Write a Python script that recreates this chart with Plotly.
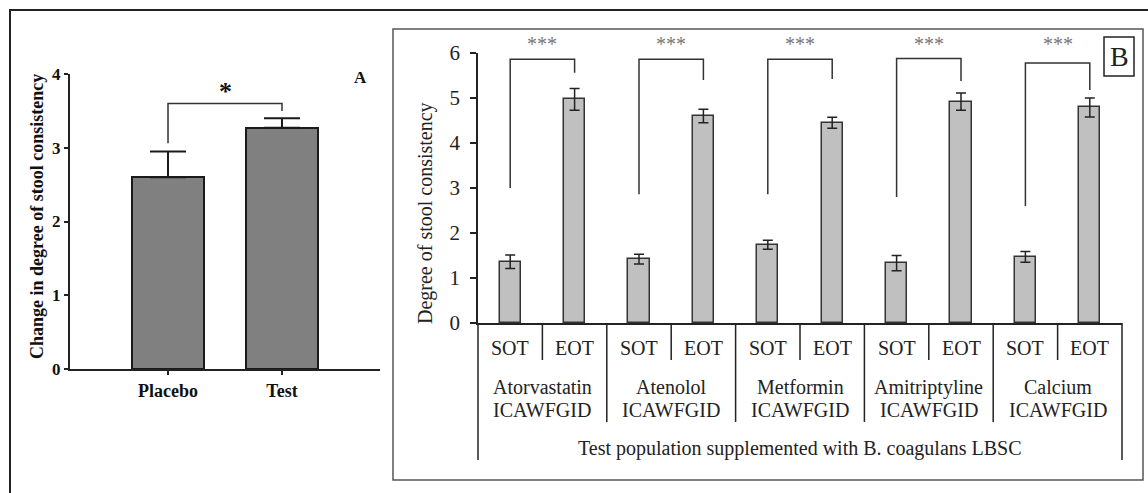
import plotly.graph_objects as go

W, H = 1148, 493

# ---------------- data ----------------
# Panel A
a_groups = ["Placebo", "Test"]
a_values = [2.60, 3.27]
a_err = [0.35, 0.13]

# Panel B
b_drugs = ["Atorvastatin", "Atenolol", "Metformin", "Amitriptyline", "Calcium"]
b_times = ["SOT", "EOT"]
b_values = [1.36, 4.97, 1.42, 4.60, 1.74, 4.45, 1.33, 4.92, 1.47, 4.79]
b_err = [0.15, 0.24, 0.11, 0.15, 0.10, 0.12, 0.17, 0.19, 0.12, 0.21]
# bracket: (SOT-side start, top, EOT-side end) heights per drug
b_br_start = [3.00, 2.86, 2.86, 2.80, 2.60]
b_br_top = [5.86, 5.86, 5.86, 5.88, 5.78]
b_br_end = [5.56, 5.40, 5.42, 5.38, 5.18]
b_sig = "***"
b_bottom = "Test population supplemented with B. coagulans LBSC"
b_sub = "ICAWFGID"


def px(x):
    return x / W


def py(y):
    return 1 - y / H


SERIF = "Liberation Serif, Times New Roman, serif"
fig = go.Figure()

# ---------------- Panel A ----------------
a_x = list(range(len(a_groups)))
fig.add_trace(go.Bar(
    x=a_x, y=a_values, width=0.64, xaxis="x", yaxis="y",
    marker=dict(color="#808080", line=dict(color="#1a1a1a", width=2)),
    error_y=dict(type="data", symmetric=False, array=a_err, arrayminus=[0] * len(a_err),
                 color="#1a1a1a", thickness=2, width=18),
    showlegend=False, hoverinfo="skip",
))

# ---------------- Panel B ----------------
b_x = list(range(len(b_values)))
fig.add_trace(go.Bar(
    x=b_x, y=b_values, width=0.33, xaxis="x2", yaxis="y2",
    marker=dict(color="#c0c0c0", line=dict(color="#333333", width=1.5)),
    error_y=dict(type="data", array=b_err, color="#222222", thickness=1.5, width=5),
    showlegend=False, hoverinfo="skip",
))

shapes = []
annotations = []

# outer frame
shapes.append(dict(type="rect", xref="paper", yref="paper", x0=px(10), x1=1.05,
                   y0=-0.05, y1=py(10), line=dict(color="#222222", width=2)))
# panel B frame
shapes.append(dict(type="rect", xref="paper", yref="paper", x0=px(393), x1=px(1143),
                   y0=py(480), y1=py(29), line=dict(color="#555555", width=1.5)))
# B label box
shapes.append(dict(type="rect", xref="paper", yref="paper", x0=px(1104), x1=px(1134),
                   y0=py(76), y1=py(37), line=dict(color="#222222", width=1.5)))
annotations.append(dict(text="B", xref="paper", yref="paper", x=px(1119), y=py(57),
                        showarrow=False, font=dict(family=SERIF, size=28, color="#222222"),
                        xanchor="center", yanchor="middle"))

# Panel A bracket and labels
shapes.append(dict(type="path", xref="x", yref="y",
                   path="M 0,3.06 L 0,3.6 L 1,3.6 L 1,3.5",
                   line=dict(color="#333333", width=1.5)))
annotations.append(dict(text="<b>*</b>", xref="x", yref="paper", x=0.5, y=py(92), showarrow=False,
                        font=dict(family=SERIF, size=26, color="#111111"),
                        xanchor="center", yanchor="middle"))
annotations.append(dict(text="<b>A</b>", xref="paper", yref="paper", x=px(360), y=py(78),
                        showarrow=False, font=dict(family=SERIF, size=17, color="#111111"),
                        xanchor="center", yanchor="middle"))
annotations.append(dict(text="<b>Change in degree of stool consistency</b>", xref="paper",
                        yref="paper", x=px(37), y=py(217), textangle=-90, showarrow=False,
                        font=dict(family=SERIF, size=18, color="#111111"),
                        xanchor="center", yanchor="middle"))

# Panel B brackets and significance
for g in range(len(b_drugs)):
    xs, xe = 2 * g, 2 * g + 1
    shapes.append(dict(type="path", xref="x2", yref="y2",
                       path=f"M {xs},{b_br_start[g]} L {xs},{b_br_top[g]} L {xe},{b_br_top[g]} L {xe},{b_br_end[g]}",
                       line=dict(color="#333333", width=1.5)))
    annotations.append(dict(text=b_sig, xref="x2", yref="paper", x=2 * g + 0.5, y=py(44),
                            showarrow=False, font=dict(family=SERIF, size=20, color="#777777"),
                            xanchor="center", yanchor="middle"))

# Panel B category axis structure
n = len(b_values)
for k in range(n + 1):
    if k in (0, n):
        yb = 460
    elif k % 2 == 0:
        yb = 422
    else:
        yb = 360
    shapes.append(dict(type="line", xref="x2 domain", yref="paper", x0=k / n, x1=k / n,
                       y0=py(323), y1=py(yb), line=dict(color="#222222", width=1.5)))

for i in range(n):
    annotations.append(dict(text=b_times[i % 2], xref="x2", yref="paper", x=i, y=py(348),
                            showarrow=False, font=dict(family=SERIF, size=20, color="#222222"),
                            xanchor="center", yanchor="middle"))
for g, d in enumerate(b_drugs):
    annotations.append(dict(text=d, xref="x2", yref="paper", x=2 * g + 0.5, y=py(387),
                            showarrow=False, font=dict(family=SERIF, size=20, color="#222222"),
                            xanchor="center", yanchor="middle"))
    annotations.append(dict(text=b_sub, xref="x2", yref="paper", x=2 * g + 0.5, y=py(410),
                            showarrow=False, font=dict(family=SERIF, size=20, color="#222222"),
                            xanchor="center", yanchor="middle"))
annotations.append(dict(text=b_bottom, xref="x2 domain", yref="paper", x=0.5, y=py(448),
                        showarrow=False, font=dict(family=SERIF, size=20, color="#222222"),
                        xanchor="center", yanchor="middle"))
annotations.append(dict(text="Degree of stool consistency", xref="paper", yref="paper",
                        x=px(425), y=py(213), textangle=-90, showarrow=False,
                        font=dict(family=SERIF, size=20, color="#222222"),
                        xanchor="center", yanchor="middle"))

fig.update_layout(
    width=W, height=H, autosize=False,
    margin=dict(l=0, r=0, t=0, b=0, pad=0, autoexpand=False),
    paper_bgcolor="white", plot_bgcolor="white",
    font=dict(family=SERIF),
    shapes=shapes, annotations=annotations,
    xaxis=dict(domain=[px(70), px(380)], range=[-0.86, 1.86], tickvals=a_x, ticktext=a_groups,
               showline=True, linecolor="#222222", linewidth=2, ticks="outside", ticklen=4,
               tickwidth=1.5, tickcolor="#222222", showgrid=False, zeroline=False,
               tickfont=dict(family=SERIF, size=18, color="#111111", weight="bold"),
               fixedrange=True, anchor="y", automargin=False),
    yaxis=dict(domain=[py(369), py(74)], range=[0, 4], tickvals=[0, 1, 2, 3, 4],
               showline=True, linecolor="#222222", linewidth=2, ticks="outside", ticklen=4,
               tickwidth=1.5, tickcolor="#222222", showgrid=False, zeroline=False,
               tickfont=dict(family=SERIF, size=17, color="#111111", weight="bold"),
               anchor="x", automargin=False),
    xaxis2=dict(domain=[px(478), px(1122)], range=[-0.5, n - 0.5], showticklabels=False,
                showline=True, linecolor="#222222", linewidth=1.5, ticks="", showgrid=False,
                zeroline=False, anchor="y2", automargin=False),
    yaxis2=dict(domain=[py(323), py(53)], range=[0, 6], tickvals=[0, 1, 2, 3, 4, 5, 6],
                showline=True, linecolor="#222222", linewidth=1.5, ticks="outside", ticklen=6,
                tickwidth=1.5, tickcolor="#222222", showgrid=False, zeroline=False,
                tickfont=dict(family=SERIF, size=21, color="#222222"), anchor="x2",
                ticklabelstandoff=6, automargin=False),
    bargap=0,
)

fig.write_html("out.html")
